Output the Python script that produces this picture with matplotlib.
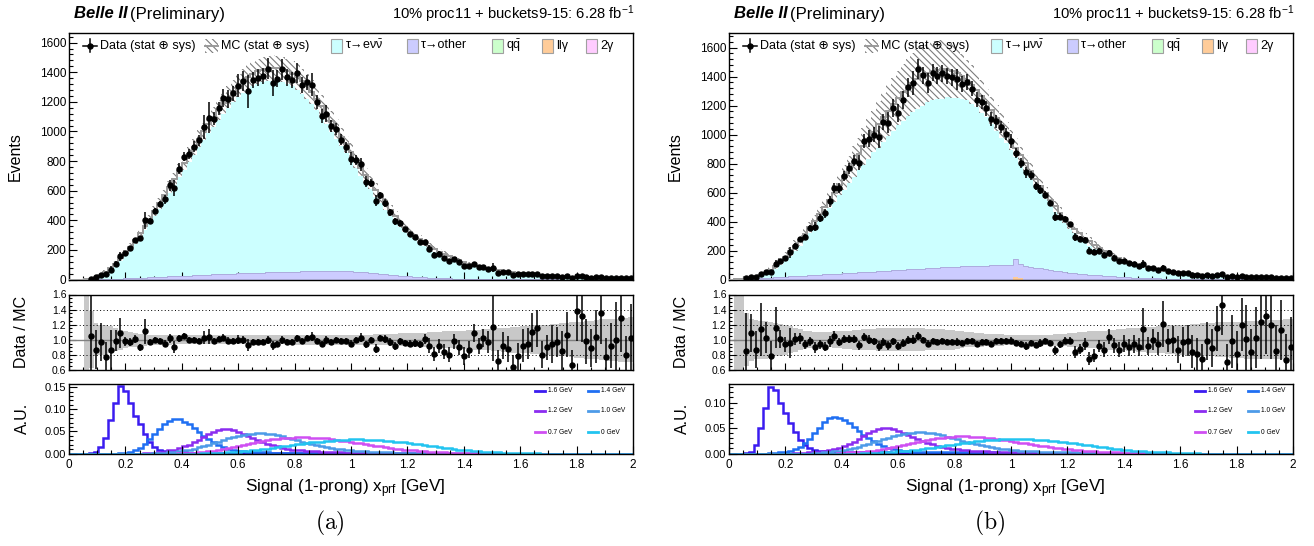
import numpy as np
import matplotlib
matplotlib.use("Agg")
import matplotlib.pyplot as plt
from matplotlib.ticker import MultipleLocator, FixedLocator, FuncFormatter
from matplotlib.patches import Rectangle
from matplotlib.lines import Line2D

plt.rcParams['font.family'] = ['Liberation Sans', 'DejaVu Sans']
plt.rcParams['mathtext.fontset'] = 'custom'
plt.rcParams['mathtext.rm'] = 'Liberation Sans'
plt.rcParams['mathtext.it'] = 'Liberation Sans:italic'
plt.rcParams['mathtext.bf'] = 'Liberation Sans:bold'
plt.rcParams['hatch.linewidth'] = 0.8

nan = np.nan

# ---------------- binning ----------------
X_MIN, X_MAX, N_BINS = 0.0, 2.0, 115

# ---------------- (a) tau -> e nu nu ----------------
mc_e = [0, 0, 0, 2, 5, 16, 33, 52, 78, 108,
        143, 180, 222, 266, 312, 360, 410, 462, 515, 570,
        625, 680, 735, 790, 845, 898, 950, 1000, 1050, 1098,
        1145, 1190, 1232, 1272, 1308, 1340, 1366, 1388, 1405, 1417,
        1425, 1428, 1426, 1420, 1408, 1390, 1366, 1338, 1305, 1266,
        1222, 1172, 1120, 1068, 1016, 964, 912, 860, 807, 755,
        704, 654, 605, 557, 511, 467, 426, 388, 353, 324,
        298, 272, 248, 226, 206, 188, 171, 156, 142, 130,
        118, 108, 98, 89, 81, 74, 68, 63, 58, 54,
        50, 46, 42, 39, 36, 33, 31, 29, 27, 25,
        23, 21, 20, 18, 17, 16, 15, 14, 13, 12,
        11, 10, 10, 9, 8]
other_e = [0, 0, 0, 0, 0, 1, 2, 3, 4, 5,
           6, 8, 9, 10, 12, 13, 15, 16, 18, 19,
           21, 22, 24, 25, 27, 28, 30, 31, 33, 34,
           36, 37, 38, 40, 41, 42, 44, 45, 46, 47,
           48, 49, 50, 51, 52, 53, 54, 55, 56, 57,
           58, 58, 59, 59, 58, 57, 56, 55, 53, 51,
           48, 45, 42, 39, 36, 33, 30, 27, 24, 21,
           19, 17, 15, 13, 11, 9, 8, 7, 6, 5,
           4, 3, 3, 2, 2, 2, 1, 1, 1, 1,
           1, 1, 1, 1, 1, 1, 1, 1, 1, 1,
           0, 0, 0, 0, 0, 0, 0, 0, 0, 0,
           0, 0, 0, 0, 0]
llg_e = [0, 0, 0, 0, 0, 0, 0, 0, 0, 0,
         0, 0, 0, 0, 0, 0, 0, 0, 0, 0,
         0, 0, 0, 0, 0, 0, 0, 0, 0, 0,
         0, 0, 0, 0, 0, 0, 0, 0, 0, 0,
         0, 0, 0, 0, 0, 0, 0, 0, 0, 0,
         0, 0, 0, 0, 0, 0, 0, 0, 0, 0,
         0, 0, 0, 0, 0, 0, 0, 0, 0, 0,
         0, 0, 0, 0, 0, 0, 0, 0, 0, 0,
         0, 0, 0, 0, 0, 0, 0, 0, 0, 0,
         0, 0, 0, 0, 0, 0, 0, 0, 0, 0,
         0, 0, 0, 0, 0, 0, 0, 0, 0, 0,
         0, 0, 0, 0, 0]
unc_e = [0, 0, 0, 1.0, 0.38, 0.22, 0.20, 0.20, 0.18, 0.15,
         0.13, 0.11, 0.10, 0.09, 0.08, 0.08, 0.07, 0.07, 0.07, 0.065,
         0.065, 0.06, 0.06, 0.06, 0.06, 0.06, 0.06, 0.06, 0.06, 0.06,
         0.06, 0.06, 0.06, 0.06, 0.06, 0.06, 0.06, 0.06, 0.06, 0.06,
         0.06, 0.06, 0.06, 0.06, 0.06, 0.06, 0.065, 0.065, 0.065, 0.065,
         0.065, 0.065, 0.065, 0.065, 0.065, 0.065, 0.065, 0.07, 0.07, 0.07,
         0.07, 0.07, 0.075, 0.075, 0.075, 0.08, 0.08, 0.085, 0.085, 0.09,
         0.09, 0.095, 0.095, 0.10, 0.10, 0.105, 0.11, 0.11, 0.115, 0.12,
         0.12, 0.125, 0.13, 0.135, 0.14, 0.14, 0.15, 0.15, 0.16, 0.16,
         0.17, 0.17, 0.18, 0.18, 0.19, 0.19, 0.20, 0.20, 0.21, 0.21,
         0.22, 0.22, 0.23, 0.24, 0.24, 0.25, 0.25, 0.26, 0.27, 0.27,
         0.28, 0.28, 0.29, 0.29, 0.30]
ratio_e = [nan, nan, nan, nan, 1.05, 0.87, 0.97, 0.77, 0.86, 0.99,
           1.09, 0.98, 0.97, 1.01, 0.90, 1.11, 0.97, 1.00, 0.99, 0.95,
           1.02, 0.91, 1.02, 1.05, 1.00, 1.00, 0.99, 1.03, 1.04, 0.99,
           1.01, 1.03, 0.99, 0.99, 1.00, 1.00, 0.93, 0.97, 0.97, 0.97,
           1.00, 0.93, 0.95, 1.00, 0.97, 0.97, 1.02, 0.98, 1.02, 1.04,
           0.98, 0.94, 1.00, 0.97, 1.00, 0.98, 0.98, 0.95, 1.00, 1.03,
           0.94, 1.00, 0.88, 1.02, 1.01, 0.97, 0.92, 0.98, 0.96, 0.95,
           0.96, 0.94, 1.01, 0.92, 0.81, 0.92, 0.84, 0.80, 0.98, 0.90,
           0.78, 0.87, 1.09, 0.92, 1.02, 0.97, 1.17, 0.72, 0.92, 0.88,
           0.64, 0.78, 0.92, 0.95, 1.10, 1.15, 0.80, 0.90, 0.94, 0.97,
           0.85, 1.07, 0.67, 1.38, 1.32, 0.98, 0.89, 1.04, 1.35, 0.77,
           0.92, 1.00, 1.29, 0.80, 1.03]
ratio_err_e = [nan, nan, nan, nan, 0.60, 0.26, 0.25, 0.20, 0.27, 0.14,
               0.20, 0.06, 0.05, 0.05, 0.05, 0.16, 0.04, 0.04, 0.04, 0.05,
               0.06, 0.08, 0.05, 0.04, 0.04, 0.04, 0.04, 0.08, 0.10, 0.04,
               0.04, 0.05, 0.05, 0.04, 0.06, 0.05, 0.08, 0.04, 0.04, 0.04,
               0.05, 0.06, 0.04, 0.05, 0.04, 0.04, 0.05, 0.04, 0.04, 0.06,
               0.04, 0.04, 0.05, 0.04, 0.04, 0.04, 0.04, 0.05, 0.04, 0.06,
               0.05, 0.04, 0.06, 0.04, 0.05, 0.05, 0.05, 0.05, 0.04, 0.05,
               0.05, 0.05, 0.07, 0.10, 0.09, 0.09, 0.10, 0.10, 0.10, 0.10,
               0.12, 0.11, 0.12, 0.11, 0.12, 0.14, 0.45, 0.14, 0.18, 0.17,
               0.16, 0.18, 0.22, 0.20, 0.26, 0.25, 0.18, 0.17, 0.25, 0.20,
               0.26, 0.30, 0.20, 0.40, 0.35, 0.30, 0.25, 0.35, 0.40, 0.25,
               0.30, 0.50, 0.45, 0.25, 0.45]

# signal-shape templates, electron channel (A.U.)
sh16_e = [0, 0, 0, 0, 0.001, 0.003, 0.014, 0.036, 0.075, 0.115,
          0.153, 0.142, 0.113, 0.085, 0.066, 0.044, 0.025, 0.014, 0.009, 0.006,
          0.005, 0.004, 0.003, 0.003, 0.002, 0.002, 0.002, 0.002, 0.002, 0.002,
          0.002, 0.002, 0.002, 0.002, 0.002, 0.001, 0.001, 0.001, 0.001, 0.001,
          0.001, 0.001, 0.001, 0.001, 0.001, 0.001, 0.001, 0.001, 0.001, 0.001,
          0.001, 0.001, 0.001, 0.001, 0.001, 0, 0, 0, 0, 0,
          0, 0, 0, 0, 0, 0, 0, 0, 0, 0,
          0, 0, 0, 0, 0, 0, 0, 0, 0, 0,
          0, 0, 0, 0, 0, 0, 0, 0, 0, 0,
          0, 0, 0, 0, 0, 0, 0, 0, 0, 0,
          0, 0, 0, 0, 0, 0, 0, 0, 0, 0,
          0, 0, 0, 0, 0]
sh14_e = [0, 0, 0, 0, 0, 0, 0, 0, 0, 0,
          0.001, 0.002, 0.004, 0.007, 0.012, 0.022, 0.033, 0.045, 0.056, 0.066,
          0.074, 0.078, 0.077, 0.072, 0.066, 0.058, 0.049, 0.040, 0.032, 0.025,
          0.019, 0.014, 0.010, 0.008, 0.006, 0.005, 0.004, 0.004, 0.003, 0.003,
          0.003, 0.002, 0.002, 0.002, 0.002, 0.002, 0.002, 0.002, 0.002, 0.002,
          0.002, 0.002, 0.002, 0.002, 0.002, 0.002, 0.002, 0.002, 0.002, 0.002,
          0.001, 0.001, 0.001, 0.001, 0.001, 0.001, 0.001, 0.001, 0.001, 0.001,
          0.001, 0.001, 0.001, 0.001, 0.001, 0, 0, 0, 0, 0,
          0, 0, 0, 0, 0, 0, 0, 0, 0, 0,
          0, 0, 0, 0, 0, 0, 0, 0, 0, 0,
          0, 0, 0, 0, 0, 0, 0, 0, 0, 0,
          0, 0, 0, 0, 0]
sh12_e = [0, 0, 0, 0, 0, 0, 0, 0, 0, 0,
          0, 0, 0, 0, 0, 0.001, 0.001, 0.002, 0.003, 0.004,
          0.007, 0.009, 0.012, 0.016, 0.020, 0.025, 0.031, 0.037, 0.043, 0.049,
          0.053, 0.056, 0.055, 0.052, 0.048, 0.044, 0.039, 0.034, 0.030, 0.026,
          0.022, 0.019, 0.016, 0.013, 0.011, 0.009, 0.008, 0.007, 0.006, 0.005,
          0.005, 0.004, 0.004, 0.003, 0.003, 0.003, 0.002, 0.002, 0.002, 0.002,
          0.002, 0.002, 0.001, 0.001, 0.001, 0.001, 0.001, 0.001, 0.001, 0.001,
          0.001, 0.001, 0.001, 0.001, 0.001, 0, 0, 0, 0, 0,
          0, 0, 0, 0, 0, 0, 0, 0, 0, 0,
          0, 0, 0, 0, 0, 0, 0, 0, 0, 0,
          0, 0, 0, 0, 0, 0, 0, 0, 0, 0,
          0, 0, 0, 0, 0]
sh10_e = [0, 0, 0, 0, 0, 0, 0, 0, 0, 0,
          0, 0, 0, 0, 0, 0, 0, 0.001, 0.001, 0.002,
          0.003, 0.004, 0.005, 0.007, 0.009, 0.011, 0.014, 0.017, 0.020, 0.024,
          0.027, 0.031, 0.034, 0.037, 0.040, 0.042, 0.044, 0.045, 0.046, 0.046,
          0.045, 0.043, 0.041, 0.039, 0.036, 0.033, 0.030, 0.027, 0.024, 0.021,
          0.019, 0.017, 0.015, 0.013, 0.011, 0.010, 0.008, 0.007, 0.006, 0.005,
          0.005, 0.004, 0.004, 0.003, 0.003, 0.003, 0.002, 0.002, 0.002, 0.002,
          0.002, 0.001, 0.001, 0.001, 0.001, 0.001, 0.001, 0.001, 0.001, 0.001,
          0.001, 0.001, 0.001, 0.001, 0.001, 0, 0, 0, 0, 0,
          0, 0, 0, 0, 0, 0, 0, 0, 0, 0,
          0, 0, 0, 0, 0, 0, 0, 0, 0, 0,
          0, 0, 0, 0, 0]
sh07_e = [0, 0, 0, 0, 0, 0, 0, 0, 0, 0,
          0, 0, 0, 0, 0, 0, 0, 0, 0, 0,
          0, 0, 0.001, 0.001, 0.002, 0.002, 0.003, 0.004, 0.005, 0.006,
          0.008, 0.010, 0.012, 0.014, 0.016, 0.019, 0.021, 0.024, 0.026, 0.028,
          0.030, 0.032, 0.033, 0.034, 0.035, 0.036, 0.037, 0.037, 0.037, 0.036,
          0.036, 0.035, 0.034, 0.032, 0.031, 0.029, 0.028, 0.026, 0.024, 0.023,
          0.021, 0.019, 0.018, 0.016, 0.014, 0.013, 0.011, 0.010, 0.009, 0.008,
          0.007, 0.006, 0.005, 0.004, 0.004, 0.003, 0.003, 0.002, 0.002, 0.002,
          0.001, 0.001, 0.001, 0.001, 0.001, 0.001, 0, 0, 0, 0,
          0, 0, 0, 0, 0, 0, 0, 0, 0, 0,
          0, 0, 0, 0, 0, 0, 0, 0, 0, 0,
          0, 0, 0, 0, 0]
sh00_e = [0, 0, 0, 0, 0, 0, 0, 0, 0, 0,
          0, 0, 0, 0, 0, 0, 0, 0, 0, 0,
          0, 0, 0, 0, 0, 0, 0, 0.001, 0.001, 0.001,
          0.002, 0.002, 0.003, 0.003, 0.004, 0.005, 0.006, 0.007, 0.008, 0.010,
          0.011, 0.013, 0.014, 0.016, 0.018, 0.019, 0.021, 0.022, 0.024, 0.025,
          0.026, 0.027, 0.028, 0.029, 0.030, 0.031, 0.031, 0.032, 0.032, 0.032,
          0.031, 0.031, 0.030, 0.030, 0.029, 0.028, 0.027, 0.026, 0.025, 0.024,
          0.022, 0.021, 0.019, 0.018, 0.016, 0.015, 0.013, 0.012, 0.010, 0.009,
          0.008, 0.007, 0.006, 0.005, 0.004, 0.004, 0.003, 0.003, 0.002, 0.002,
          0.002, 0.001, 0.001, 0.001, 0.001, 0.001, 0, 0, 0, 0,
          0, 0, 0, 0, 0, 0, 0, 0, 0, 0,
          0, 0, 0, 0, 0]

# ---------------- (b) tau -> mu nu nu ----------------
mc_m = [0, 2, 5, 9, 13, 20, 32, 48, 68, 94,
        124, 158, 195, 232, 272, 315, 360, 406, 453, 501,
        550, 600, 652, 705, 758, 812, 865, 918, 970, 1020,
        1070, 1118, 1164, 1208, 1250, 1290, 1325, 1357, 1385, 1408,
        1426, 1440, 1448, 1450, 1447, 1438, 1423, 1402, 1376, 1344,
        1306, 1263, 1216, 1166, 1115, 1064, 1013, 962, 910, 857,
        803, 749, 696, 645, 596, 549, 504, 461, 421, 384,
        350, 318, 289, 263, 239, 217, 197, 179, 163, 148,
        135, 123, 112, 102, 93, 85, 78, 71, 65, 60,
        55, 51, 47, 43, 40, 37, 34, 32, 30, 28,
        26, 24, 22, 21, 20, 18, 17, 16, 15, 14,
        13, 12, 11, 10, 9]
other_m = [0, 1, 2, 3, 5, 7, 9, 11, 13, 15,
           17, 19, 21, 23, 25, 27, 29, 31, 33, 35,
           37, 39, 41, 43, 45, 47, 49, 51, 53, 55,
           57, 59, 61, 63, 65, 67, 69, 71, 73, 75,
           77, 79, 81, 83, 85, 87, 89, 90, 92, 93,
           94, 95, 96, 97, 98, 99, 100, 100, 122, 98,
           92, 87, 82, 77, 72, 67, 62, 57, 52, 48,
           44, 40, 37, 34, 31, 28, 25, 23, 21, 19,
           17, 15, 13, 11, 10, 9, 8, 7, 6, 5,
           4, 4, 3, 3, 3, 2, 2, 2, 2, 2,
           1, 1, 1, 1, 1, 1, 1, 1, 1, 1,
           1, 1, 1, 1, 1]
llg_m = [0, 0, 0, 0, 0, 0, 0, 0, 0, 0,
         0, 0, 0, 0, 0, 0, 0, 0, 0, 0,
         0, 0, 0, 0, 0, 0, 0, 0, 0, 0,
         0, 0, 0, 0, 0, 0, 0, 0, 0, 0,
         0, 0, 0, 0, 0, 0, 0, 0, 0, 0,
         0, 0, 0, 0, 0, 0, 0, 0, 18, 8,
         0, 0, 0, 0, 0, 0, 0, 0, 0, 0,
         0, 0, 0, 0, 0, 0, 0, 0, 0, 0,
         0, 0, 0, 0, 0, 0, 0, 0, 0, 0,
         0, 0, 0, 0, 0, 0, 0, 0, 0, 0,
         0, 0, 0, 0, 0, 0, 0, 0, 0, 0,
         0, 0, 0, 0, 0]
unc_m = [0, 1.0, 1.0, 0.35, 0.28, 0.26, 0.25, 0.25, 0.24, 0.22,
         0.21, 0.20, 0.18, 0.16, 0.14, 0.12, 0.11, 0.10, 0.10, 0.10,
         0.10, 0.11, 0.11, 0.12, 0.12, 0.13, 0.13, 0.14, 0.14, 0.14,
         0.15, 0.15, 0.15, 0.15, 0.15, 0.15, 0.15, 0.15, 0.15, 0.15,
         0.14, 0.14, 0.14, 0.14, 0.13, 0.13, 0.12, 0.11, 0.10, 0.10,
         0.09, 0.09, 0.08, 0.08, 0.08, 0.08, 0.07, 0.07, 0.07, 0.07,
         0.07, 0.07, 0.07, 0.07, 0.07, 0.07, 0.08, 0.08, 0.08, 0.09,
         0.09, 0.10, 0.10, 0.11, 0.11, 0.12, 0.12, 0.13, 0.13, 0.14,
         0.14, 0.15, 0.15, 0.16, 0.16, 0.17, 0.17, 0.18, 0.18, 0.19,
         0.19, 0.20, 0.20, 0.20, 0.21, 0.21, 0.22, 0.22, 0.22, 0.23,
         0.23, 0.23, 0.24, 0.24, 0.24, 0.25, 0.25, 0.25, 0.25, 0.26,
         0.26, 0.26, 0.26, 0.27, 0.27]
ratio_m = [nan, nan, nan, 0.85, 1.09, 0.87, 1.14, 1.03, 0.79, 1.16,
           1.01, 0.94, 0.96, 1.01, 1.02, 0.94, 0.98, 0.90, 0.94, 0.91,
           0.98, 1.05, 0.97, 1.01, 1.01, 1.01, 0.93, 1.04, 1.00, 0.98,
           0.92, 0.97, 0.93, 0.98, 0.92, 0.96, 1.00, 1.00, 1.05, 1.00,
           0.95, 0.99, 0.97, 0.98, 0.97, 0.97, 0.97, 0.96, 0.99, 0.98,
           0.95, 0.97, 0.97, 0.95, 0.98, 0.99, 0.99, 0.99, 0.96, 0.94,
           0.92, 0.96, 0.93, 0.96, 0.98, 0.96, 0.86, 0.94, 0.99, 0.99,
           0.84, 0.88, 0.94, 0.75, 0.79, 0.92, 0.87, 1.04, 0.93, 0.87,
           0.95, 0.90, 0.95, 0.91, 1.14, 0.92, 1.00, 0.95, 1.21, 0.99,
           1.00, 0.87, 0.97, 0.99, 0.84, 0.81, 0.74, 0.98, 0.89, 1.15,
           1.46, 0.70, 0.98, 0.81, 1.20, 1.01, 0.84, 1.03, 1.24, 1.31,
           1.19, 0.85, 1.13, 0.73, 0.90]
ratio_err_m = [nan, nan, nan, 0.50, 0.25, 0.25, 0.35, 0.20, 0.20, 0.27,
               0.12, 0.10, 0.20, 0.08, 0.07, 0.06, 0.06, 0.07, 0.06, 0.06,
               0.07, 0.06, 0.05, 0.05, 0.05, 0.05, 0.06, 0.05, 0.06, 0.05,
               0.07, 0.05, 0.06, 0.05, 0.05, 0.05, 0.05, 0.06, 0.05, 0.04,
               0.05, 0.04, 0.04, 0.04, 0.04, 0.04, 0.05, 0.04, 0.04, 0.04,
               0.04, 0.04, 0.04, 0.04, 0.04, 0.04, 0.04, 0.05, 0.04, 0.04,
               0.05, 0.04, 0.04, 0.05, 0.04, 0.04, 0.06, 0.05, 0.05, 0.05,
               0.08, 0.07, 0.08, 0.09, 0.09, 0.08, 0.10, 0.10, 0.10, 0.10,
               0.11, 0.11, 0.12, 0.12, 0.28, 0.12, 0.14, 0.15, 0.30, 0.15,
               0.18, 0.18, 0.20, 0.20, 0.22, 0.22, 0.20, 0.25, 0.25, 0.30,
               0.40, 0.25, 0.35, 0.30, 0.35, 0.45, 0.30, 0.40, 0.50, 0.50,
               0.45, 0.35, 0.40, 0.35, 0.40]

# signal-shape templates, muon channel (A.U.)
sh16_m = [0, 0, 0, 0.001, 0.003, 0.016, 0.051, 0.090, 0.131, 0.124,
          0.100, 0.080, 0.060, 0.042, 0.027, 0.017, 0.011, 0.007, 0.005, 0.004,
          0.003, 0.003, 0.002, 0.002, 0.002, 0.002, 0.002, 0.002, 0.002, 0.002,
          0.002, 0.002, 0.002, 0.001, 0.001, 0.001, 0.001, 0.001, 0.001, 0.001,
          0.001, 0.001, 0.001, 0.001, 0.001, 0.001, 0.001, 0.001, 0.001, 0.001,
          0.001, 0.001, 0.001, 0.001, 0.001, 0, 0, 0, 0, 0,
          0, 0, 0, 0, 0, 0, 0, 0, 0, 0,
          0, 0, 0, 0, 0, 0, 0, 0, 0, 0,
          0, 0, 0, 0, 0, 0, 0, 0, 0, 0,
          0, 0, 0, 0, 0, 0, 0, 0, 0, 0,
          0, 0, 0, 0, 0, 0, 0, 0, 0, 0,
          0, 0, 0, 0, 0]
sh14_m = [0, 0, 0, 0, 0, 0, 0, 0, 0.001, 0.001,
          0.002, 0.003, 0.005, 0.008, 0.013, 0.020, 0.029, 0.040, 0.051, 0.061,
          0.069, 0.072, 0.070, 0.065, 0.059, 0.052, 0.044, 0.037, 0.030, 0.024,
          0.018, 0.014, 0.010, 0.008, 0.006, 0.005, 0.004, 0.003, 0.003, 0.003,
          0.002, 0.002, 0.002, 0.002, 0.002, 0.002, 0.002, 0.002, 0.002, 0.002,
          0.002, 0.002, 0.002, 0.002, 0.002, 0.001, 0.001, 0.001, 0.001, 0.001,
          0.001, 0.001, 0.001, 0.001, 0.001, 0.001, 0.001, 0.001, 0.001, 0.001,
          0.001, 0.001, 0.001, 0.001, 0.001, 0, 0, 0, 0, 0,
          0, 0, 0, 0, 0, 0, 0, 0, 0, 0,
          0, 0, 0, 0, 0, 0, 0, 0, 0, 0,
          0, 0, 0, 0, 0, 0, 0, 0, 0, 0,
          0, 0, 0, 0, 0]
sh12_m = [0, 0, 0, 0, 0, 0, 0, 0, 0, 0,
          0, 0, 0, 0.001, 0.001, 0.001, 0.002, 0.002, 0.003, 0.004,
          0.006, 0.008, 0.011, 0.014, 0.018, 0.023, 0.028, 0.034, 0.040, 0.045,
          0.049, 0.051, 0.050, 0.048, 0.044, 0.040, 0.036, 0.032, 0.028, 0.024,
          0.021, 0.018, 0.015, 0.013, 0.011, 0.009, 0.008, 0.007, 0.006, 0.005,
          0.005, 0.004, 0.004, 0.003, 0.003, 0.003, 0.002, 0.002, 0.002, 0.002,
          0.002, 0.002, 0.001, 0.001, 0.001, 0.001, 0.001, 0.001, 0.001, 0.001,
          0.001, 0.001, 0.001, 0.001, 0.001, 0, 0, 0, 0, 0,
          0, 0, 0, 0, 0, 0, 0, 0, 0, 0,
          0, 0, 0, 0, 0, 0, 0, 0, 0, 0,
          0, 0, 0, 0, 0, 0, 0, 0, 0, 0,
          0, 0, 0, 0, 0]
sh10_m = [0, 0, 0, 0, 0, 0, 0, 0, 0, 0,
          0, 0, 0, 0, 0, 0, 0, 0.001, 0.001, 0.002,
          0.003, 0.004, 0.005, 0.006, 0.008, 0.010, 0.013, 0.016, 0.019, 0.022,
          0.025, 0.028, 0.031, 0.034, 0.036, 0.038, 0.040, 0.041, 0.042, 0.042,
          0.041, 0.040, 0.038, 0.036, 0.033, 0.031, 0.028, 0.025, 0.022, 0.020,
          0.018, 0.016, 0.014, 0.012, 0.010, 0.009, 0.008, 0.007, 0.006, 0.005,
          0.005, 0.004, 0.004, 0.003, 0.003, 0.003, 0.002, 0.002, 0.002, 0.002,
          0.002, 0.001, 0.001, 0.001, 0.001, 0.001, 0.001, 0.001, 0.001, 0.001,
          0.001, 0.001, 0.001, 0.001, 0.001, 0, 0, 0, 0, 0,
          0, 0, 0, 0, 0, 0, 0, 0, 0, 0,
          0, 0, 0, 0, 0, 0, 0, 0, 0, 0,
          0, 0, 0, 0, 0]
sh07_m = [0, 0, 0, 0, 0, 0, 0, 0, 0, 0,
          0, 0, 0, 0, 0, 0, 0, 0, 0, 0,
          0, 0, 0.001, 0.001, 0.002, 0.002, 0.003, 0.003, 0.004, 0.005,
          0.007, 0.008, 0.010, 0.012, 0.014, 0.016, 0.019, 0.021, 0.023, 0.025,
          0.027, 0.029, 0.030, 0.031, 0.032, 0.033, 0.034, 0.034, 0.034, 0.033,
          0.033, 0.032, 0.031, 0.030, 0.029, 0.027, 0.026, 0.024, 0.023, 0.021,
          0.020, 0.018, 0.017, 0.015, 0.014, 0.012, 0.011, 0.010, 0.009, 0.008,
          0.007, 0.006, 0.005, 0.004, 0.004, 0.003, 0.003, 0.002, 0.002, 0.002,
          0.001, 0.001, 0.001, 0.001, 0.001, 0.001, 0, 0, 0, 0,
          0, 0, 0, 0, 0, 0, 0, 0, 0, 0,
          0, 0, 0, 0, 0, 0, 0, 0, 0, 0,
          0, 0, 0, 0, 0]
sh00_m = [0, 0, 0, 0, 0, 0, 0, 0, 0, 0,
          0, 0, 0, 0, 0, 0, 0, 0, 0, 0,
          0, 0, 0, 0, 0, 0, 0, 0.001, 0.001, 0.001,
          0.001, 0.002, 0.002, 0.003, 0.004, 0.004, 0.005, 0.006, 0.007, 0.009,
          0.010, 0.011, 0.013, 0.014, 0.016, 0.017, 0.019, 0.020, 0.021, 0.023,
          0.024, 0.025, 0.026, 0.027, 0.027, 0.028, 0.028, 0.029, 0.029, 0.029,
          0.028, 0.028, 0.027, 0.027, 0.026, 0.025, 0.024, 0.023, 0.022, 0.021,
          0.020, 0.019, 0.017, 0.016, 0.015, 0.013, 0.012, 0.011, 0.009, 0.008,
          0.007, 0.006, 0.005, 0.005, 0.004, 0.003, 0.003, 0.002, 0.002, 0.002,
          0.001, 0.001, 0.001, 0.001, 0.001, 0.001, 0, 0, 0, 0,
          0, 0, 0, 0, 0, 0, 0, 0, 0, 0,
          0, 0, 0, 0, 0]

shape_labels = ["1.6 GeV", "1.4 GeV", "1.2 GeV", "1.0 GeV", "0.7 GeV", "0 GeV"]

# ---------------- styling ----------------
C_SIG = '#ccffff'
C_OTH = '#ccccff'
C_QQ = '#ccffcc'
C_LLG = '#ffcc99'
C_2G = '#ffccff'
C_BOX_EDGE = '#a0a0a0'
C_HATCH = '#7c7c7c'
C_MCLINE = '#9a9a9a'
HATCH = '\\\\\\\\\\'
SHAPE_COLORS = ['#3b1cf0', '#1f6ff2', '#8b2cf0', '#4d9be8', '#cf4ff2', '#22c4f0']

W, H = 1314, 546
fig = plt.figure(figsize=(W / 100, H / 100), dpi=100)
fig.patch.set_facecolor('white')

edges = np.linspace(X_MIN, X_MAX, N_BINS + 1)
centers = 0.5 * (edges[1:] + edges[:-1])


def rect(l, t, r, b):
    return [l / W, 1 - b / H, (r - l) / W, (b - t) / H]


overlay = fig.add_axes([0, 0, 1, 1], zorder=20)
overlay.set_xlim(0, W)
overlay.set_ylim(H, 0)
overlay.axis('off')
overlay.patch.set_visible(False)


def style_axis(ax, ylabsize):
    ax.tick_params(which='both', direction='in', top=False, right=False,
                   labelsize=ylabsize, width=0.8, pad=2)
    ax.tick_params(which='major', length=6)
    ax.tick_params(which='minor', length=3)
    for s in ax.spines.values():
        s.set_linewidth(1.0)
    ax.set_xlim(X_MIN, X_MAX)
    ax.xaxis.set_major_locator(MultipleLocator(0.2))
    ax.xaxis.set_minor_locator(MultipleLocator(0.05))


def draw_channel(x0, mc, oth, llg, ratio, rerr, unc, shapes,
                 ymax_main, ymax_shape, shape_ticks, sig_label, tag):
    mc = np.asarray(mc, float)
    oth = np.asarray(oth, float)
    llg = np.asarray(llg, float)
    ratio = np.asarray(ratio, float)
    rerr = np.asarray(rerr, float)
    unc = np.asarray(unc, float)
    left, right = x0, x0 + 564

    # ---- main distribution ----
    ax = fig.add_axes(rect(left, 33, right, 279.5))
    ax.stairs(mc, edges, fill=True, facecolor=C_SIG, edgecolor='none', zorder=1)
    ax.stairs(llg + oth, edges, baseline=llg, fill=True, facecolor=C_OTH,
              edgecolor='none', zorder=2)
    ax.stairs(llg + oth, edges, color='#a8a8d8', lw=0.6, zorder=2)
    if llg.any():
        ax.stairs(llg, edges, fill=True, facecolor=C_LLG, edgecolor='none', zorder=2)
    lo = mc * (1 - unc)
    hi = mc * (1 + unc)
    ax.stairs(hi, edges, baseline=lo, fill=True, facecolor='white',
              edgecolor=C_HATCH, hatch=HATCH, linewidth=0, zorder=3)
    ax.stairs(mc, edges, color=C_MCLINE, lw=1.4, zorder=4)
    m = np.isfinite(ratio)
    ax.errorbar(centers[m], (ratio * mc)[m], yerr=(rerr * mc)[m], fmt='o',
                color='k', ms=3.6, elinewidth=1.1, capsize=0, zorder=6)
    style_axis(ax, 8.5)
    ax.set_ylim(0, ymax_main)
    ax.yaxis.set_major_locator(MultipleLocator(200))
    ax.yaxis.set_minor_locator(MultipleLocator(40))
    ax.tick_params(axis='x', labelbottom=False)

    # ---- data / MC ----
    ax2 = fig.add_axes(rect(left, 294.5, right, 370))
    ax2.stairs(1 + unc, edges, baseline=1 - unc, fill=True, facecolor='#c8c8c8',
               edgecolor='none', zorder=1)
    ax2.axhline(1.0, color='#808080', lw=1.0, zorder=2)
    for v in (0.8, 1.2, 1.4):
        ax2.axhline(v, color='k', lw=0.7, ls=(0, (1, 2.5)), zorder=2)
    ax2.errorbar(centers[m], ratio[m], yerr=rerr[m], fmt='o', color='k',
                 ms=3.6, elinewidth=1.1, capsize=0, zorder=5)
    style_axis(ax2, 7.5)
    ax2.set_ylim(0.6, 1.6)
    ax2.yaxis.set_major_locator(FixedLocator([0.6, 0.8, 1.0, 1.2, 1.4, 1.6]))
    ax2.yaxis.set_minor_locator(MultipleLocator(0.05))
    ax2.yaxis.set_major_formatter(FuncFormatter(lambda v, p: f"{v:.1f}"))
    ax2.tick_params(axis='x', labelbottom=False)
    ax2.tick_params(which='major', length=5)
    ax2.tick_params(which='minor', length=2.5)

    # ---- signal shapes ----
    ax3 = fig.add_axes(rect(left, 384, right, 453.5))
    for vals, col in zip(shapes, SHAPE_COLORS):
        ax3.stairs(np.asarray(vals, float), edges, color=col, lw=1.8)
    style_axis(ax3, 8)
    ax3.set_ylim(0, ymax_shape)
    ax3.yaxis.set_major_locator(FixedLocator(shape_ticks))
    ax3.yaxis.set_minor_locator(MultipleLocator(0.01))
    ax3.yaxis.set_major_formatter(FuncFormatter(lambda v, p: f"{v:.2f}"))
    ax3.xaxis.set_major_formatter(FuncFormatter(lambda v, p: f"{v:g}"))
    ax3.tick_params(axis='x', labelsize=8.5, pad=4)

    # shape legend, two columns
    rows = [391, 411, 432]
    for k, (lab, col) in enumerate(zip(shape_labels, SHAPE_COLORS)):
        cx = x0 + (466 if k % 2 == 0 else 519)
        cy = rows[k // 2]
        overlay.add_line(Line2D([cx, cx + 10], [cy, cy], color=col, lw=2.0))
        overlay.text(cx + 13, cy, lab, fontsize=4.8, va='center', ha='left')

    # ---- axis titles ----
    overlay.text(x0 - 54, 157, "Events", rotation=90, fontsize=11.5,
                 ha='center', va='center')
    overlay.text(x0 - 47, 332, "Data / MC", rotation=90, fontsize=11.5,
                 ha='center', va='center')
    overlay.text(x0 - 47, 418, "A.U.", rotation=90, fontsize=11.5,
                 ha='center', va='center')
    overlay.text(x0 + 276, 489, r"Signal (1-prong) x$_{\mathrm{prf}}$ [GeV]",
                 fontsize=12.3, ha='center', va='center')
    overlay.text(x0 + 261, 523, r"$\mathrm{(" + tag + r")}$", fontsize=17,
                 ha='center', va='center', math_fontfamily='cm')

    # ---- header ----
    overlay.text(x0 + 5, 14, "Belle II", fontsize=12, fontweight='bold',
                 fontstyle='italic', ha='left', va='center')
    overlay.text(x0 + 61, 14, "(Preliminary)", fontsize=12, ha='left', va='center')
    overlay.text(right + 1, 14, r"10% proc11 + buckets9-15: 6.28 fb$^{\mathrm{-1}}$",
                 fontsize=10.6, ha='right', va='center')

    # ---- main legend ----
    ly = 45.5
    dx = x0 + 21
    overlay.add_line(Line2D([dx, dx], [39, 52], color='k', lw=1.1))
    overlay.add_line(Line2D([dx - 7, dx + 7], [ly, ly], color='k', lw=1.1))
    overlay.add_line(Line2D([dx], [ly], marker='o', ms=3.6, color='k'))
    overlay.text(x0 + 31, ly, "Data (stat \u2295 sys)", fontsize=9,
                 ha='left', va='center')
    overlay.add_patch(Rectangle((x0 + 136, 38.5), 13, 14, facecolor='none',
                                edgecolor=C_HATCH, hatch=HATCH, lw=0))
    overlay.add_line(Line2D([x0 + 136, x0 + 149], [ly, ly], color=C_MCLINE, lw=1.4))
    overlay.text(x0 + 152, ly, "MC (stat \u2295 sys)", fontsize=9,
                 ha='left', va='center')
    boxes = [(262, C_SIG, sig_label), (338, C_OTH, "\u03c4\u2192other"),
             (423, C_QQ, r"q$\mathrm{\bar{q}}$"), (473, C_LLG, "ll\u03b3"),
             (517, C_2G, "2\u03b3")]
    for bx, col, lab in boxes:
        overlay.add_patch(Rectangle((x0 + bx, 38.5), 11, 14.5, facecolor=col,
                                    edgecolor=C_BOX_EDGE, lw=0.8))
        overlay.text(x0 + bx + 14, ly, lab, fontsize=9, ha='left', va='center')


draw_channel(69, mc_e, other_e, llg_e, ratio_e, ratio_err_e, unc_e,
             [sh16_e, sh14_e, sh12_e, sh10_e, sh07_e, sh00_e],
             1665, 0.157, [0.0, 0.05, 0.10, 0.15],
             "\u03c4\u2192e\u03bd" + r"$\mathrm{\bar{\nu}}$", "a")
draw_channel(729, mc_m, other_m, llg_m, ratio_m, ratio_err_m, unc_m,
             [sh16_m, sh14_m, sh12_m, sh10_m, sh07_m, sh00_m],
             1700, 0.1365, [0.0, 0.05, 0.10],
             "\u03c4\u2192\u03bc\u03bd" + r"$\mathrm{\bar{\nu}}$", "b")

fig.savefig("out.png", dpi=100, facecolor='white')
